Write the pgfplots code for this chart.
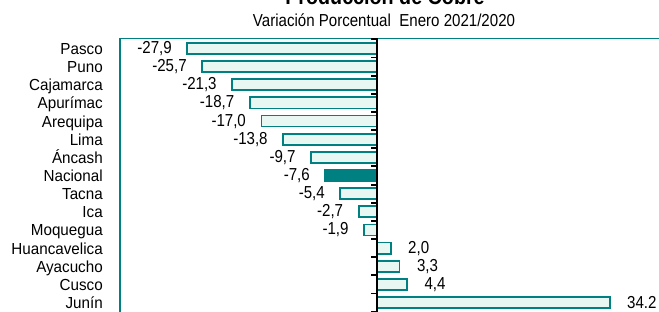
\documentclass[border=0pt]{standalone}
\usepackage{fontspec}
\setmainfont{Liberation Sans}
\newfontfamily\condfont[FakeStretch=0.87]{Liberation Sans}
\newfontfamily\catfont[FakeStretch=0.95]{Liberation Sans}
\usepackage{pgfplots}
\pgfplotsset{compat=1.18}
\definecolor{tealb}{RGB}{0,128,128}
\definecolor{mint}{RGB}{232,247,241}
\begin{document}
\begin{tikzpicture}
\node[anchor=base, font=\condfont\bfseries\fontsize{17}{17}\selectfont] at (288.75pt,-3pt) {Producción de Cobre};
\node[anchor=base, font=\condfont\fontsize{13}{13}\selectfont] at (288pt,-20pt) {Variación Porcentual\ \ Enero 2021/2020};
\begin{axis}[
 at={(90pt,-29.0pt)}, anchor=north west,
 scale only axis,
 width=406.98pt, height=211.5pt,
 xmin=-37.8, xmax=42,
 ymin=-0.54, ymax=15,
 y dir=reverse,
 xbar, bar width=8.3pt, bar shift=0pt,
 axis line style={tealb, line width=1.2pt},
 xtick=\empty,
 ytick={0,...,14},
 yticklabels={Pasco, Puno, Cajamarca, Apurímac, Arequipa, Lima, Áncash, Nacional, Tacna, Ica, Moquegua, Huancavelica, Ayacucho, Cusco, Junín},
 major tick length=0pt,
 yticklabel style={font=\catfont\fontsize{12}{12}\selectfont, anchor=base east, inner sep=0pt, xshift=-12.75pt, yshift=-4.5pt},
 clip=false,
 point meta=x,
 nodes near coords={\pgfmathprintnumber[fixed,fixed zerofill,precision=1,use comma,assume math mode=true]{\pgfplotspointmeta}},
 nodes near coords style={font=\condfont\fontsize{13}{13}\selectfont, inner sep=0pt, text=black},
]
\addplot[draw=tealb, fill=mint, line width=1.35pt, every node near coord/.append style={xshift=-11pt}]
 coordinates {(-27.9,0) (-25.7,1) (-21.3,2) (-18.7,3) (-17.0,4) (-13.8,5) (-9.7,6) (-5.4,8) (-2.7,9) (-1.9,10)};
\addplot[draw=tealb, fill=tealb, line width=1.35pt, every node near coord/.append style={xshift=-11pt}]
 coordinates {(-7.6,7)};
\addplot[draw=tealb, fill=mint, line width=1.35pt, every node near coord/.append style={xshift=12.5pt}]
 coordinates {(2.0,11) (3.3,12) (4.4,13)};
\addplot[draw=tealb, fill=mint, line width=1.35pt,
 nodes near coords={\pgfmathprintnumber[fixed,fixed zerofill,precision=1,use period,assume math mode=true]{\pgfplotspointmeta}},
 every node near coord/.append style={xshift=12.5pt}]
 coordinates {(34.2,14)};
\draw[black, line width=1.5pt] (axis cs:0,-0.54) -- (axis cs:0,15);
\pgfplotsinvokeforeach{-0.5,0.5,...,14.5}{\draw[black, line width=1.4pt] ([xshift=-4.5pt]axis cs:0,#1) -- ([xshift=0.75pt]axis cs:0,#1);}
\end{axis}
\pgfresetboundingbox
\path[use as bounding box] (0,0) rectangle (494.25pt,-233.25pt);
\end{tikzpicture}
\end{document}
